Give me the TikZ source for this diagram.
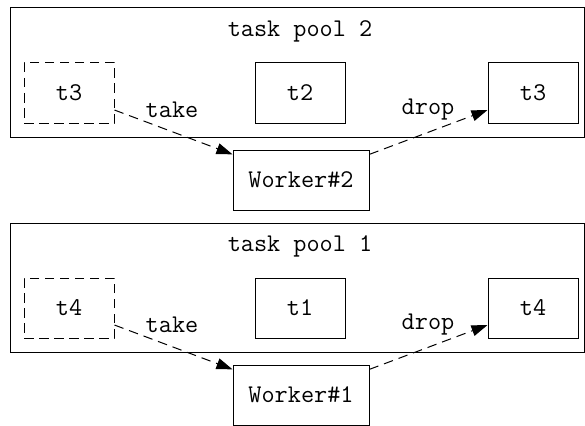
\documentclass[tikz,border=0pt]{standalone}
\usetikzlibrary{arrows.meta,positioning}

\begin{document}
\begin{tikzpicture}[x=1pt,y=-1pt,
  font=\ttfamily\fontsize{25.5}{30}\selectfont,
  task/.style={draw,line width=1pt,minimum width=90pt,minimum height=60pt,inner sep=0pt},
  gone/.style={task,dash pattern=on 9.5pt off 5.5pt},
  worker/.style={task,minimum width=136pt},
  move/.style={line width=1pt,dash pattern=on 9.5pt off 6pt,-{Triangle[length=16pt,width=11pt]}}]
\useasboundingbox (0,0) rectangle (585,425);
% one pool and its worker per round, pool 2 on top
\foreach \n/\dy/\old/\mid in {2/0/t3/t2,1/215/t4/t1}{
  \draw[line width=1pt] (10,8+\dy) rectangle (584,137+\dy);
  \node (pool\n) at (300,31+\dy) {task pool \n};
  \node[gone] (old\n) at (69,93+\dy) {\old};
  \node[task] (mid\n) at (300,93+\dy) {\mid};
  \node[task] (new\n) at (533,93+\dy) {\old};
  \node[worker] (w\n) at (301,180+\dy) {Worker\#\n};
  \draw[move] (old\n) -- (w\n);
  \draw[move] (w\n) -- (new\n);
  \node (take\n) at (172,110+\dy) {take};
  \node (drop\n) at (428,110+\dy) {drop};
}
\end{tikzpicture}
\end{document}
